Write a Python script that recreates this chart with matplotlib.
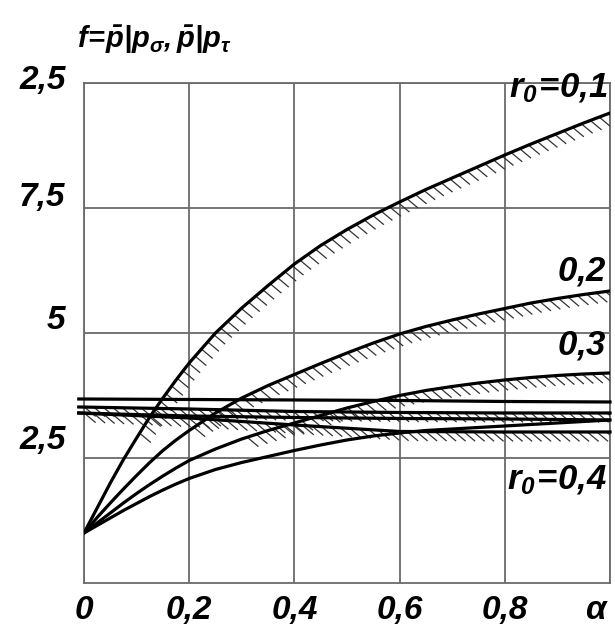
import numpy as np
import matplotlib
matplotlib.use("Agg")
import matplotlib.pyplot as plt

plt.rcParams['font.family'] = ['Liberation Sans', 'DejaVu Sans']
plt.rcParams['mathtext.fontset'] = 'custom'
plt.rcParams['mathtext.it'] = 'Liberation Sans:bold:italic'
plt.rcParams['mathtext.rm'] = 'Liberation Sans:bold:italic'
plt.rcParams['mathtext.sf'] = 'Liberation Sans:bold:italic'
plt.rcParams['mathtext.bf'] = 'Liberation Sans:bold:italic'

# ---- data ----
alpha = [0.0, 0.025, 0.05, 0.075, 0.1, 0.125, 0.15, 0.175, 0.2, 0.25, 0.3, 0.35,
         0.4, 0.45, 0.5, 0.55, 0.6, 0.65, 0.7, 0.75, 0.8, 0.85, 0.9, 0.95, 1.0]
f_r01 = [1.0, 1.5, 2.0, 2.47, 2.9, 3.32, 3.7, 4.06, 4.4, 5.0, 5.5, 5.95,
         6.38, 6.75, 7.07, 7.36, 7.62, 7.87, 8.1, 8.33, 8.56, 8.78, 8.99, 9.2, 9.4]
f_r02 = [1.0, 1.31, 1.6, 1.88, 2.15, 2.41, 2.65, 2.86, 3.05, 3.4, 3.7, 3.95,
         4.17, 4.39, 4.6, 4.8, 4.98, 5.13, 5.26, 5.38, 5.49, 5.6, 5.69, 5.77, 5.84]
f_r03 = [1.0, 1.2, 1.4, 1.6, 1.79, 1.97, 2.14, 2.3, 2.45, 2.68, 2.88, 3.05,
         3.2, 3.35, 3.5, 3.63, 3.75, 3.85, 3.93, 4.0, 4.06, 4.11, 4.15, 4.18, 4.2]
f_r04 = [1.0, 1.15, 1.3, 1.45, 1.59, 1.73, 1.86, 1.98, 2.09, 2.27, 2.41, 2.53,
         2.65, 2.76, 2.86, 2.94, 3.0, 3.05, 3.08, 3.11, 3.14, 3.17, 3.2, 3.23, 3.26]

alpha_h = [-0.01, 0.2, 0.4, 0.6, 0.8, 1.0]
h_a = [3.68, 3.67, 3.66, 3.65, 3.63, 3.62]
h_b = [3.52, 3.48, 3.43, 3.41, 3.40, 3.40]
h_c = [3.40, 3.34, 3.31, 3.29, 3.28, 3.26]
h_d = [3.40, 3.30, 3.16, 3.03, 3.02, 3.02]

x_ticks = [0, 0.2, 0.4, 0.6, 0.8, 1.0]
x_labels = ['0', '0,2', '0,4', '0,6', '0,8', 'α']
y_ticks = [2.5, 5, 7.5, 10]
y_labels = ['2,5', '5', '7,5', '2,5']

curve_labels = [r'$r_0\!=\!0{,}1$', r'$0{,}2$', r'$0{,}3$', r'$r_0\!=\!0{,}4$']
label_y = [9.55, 5.9, 4.42, 1.72]

fig = plt.figure(figsize=(6.15, 6.31), dpi=100)
ax = fig.add_axes([0.1366, 0.0761, 0.8553, 0.7924])
ax.set_xlim(0, 1)
ax.set_ylim(0, 10)
ax.set_xticks(x_ticks)
ax.set_yticks(y_ticks)
ax.grid(True, color='#6a6a6a', lw=1.3)
ax.tick_params(length=0)
ax.set_xticklabels([])
ax.set_yticklabels([])
for s in ax.spines.values():
    s.set_color('#6a6a6a')
    s.set_linewidth(1.3)

fs = 24
tk = dict(fontsize=fs, style='italic', weight='bold', family='Liberation Sans')
x_pos = list(x_ticks)
x_pos[-1] = 0.972
for xv, lab in zip(x_pos, x_labels):
    ax.text(xv, -0.25, lab, ha='center', va='top', **tk)
offs = [0.35, 0.25, 0.2, 0.05]
for yv, lab, o in zip(y_ticks, y_labels, offs):
    ax.text(-0.035, yv + o, lab, ha='right', va='center', **tk)

fig.text(0.125, 0.937, r'$f\!=\!\bar{p}|p_{\sigma},\bar{p}|p_{\tau}$', fontsize=21,
         ha='left', va='center')

lw = 2.3
for fv in (f_r01, f_r02, f_r03, f_r04):
    ax.plot(alpha, fv, color='black', lw=lw, solid_capstyle='round',
            solid_joinstyle='round', zorder=4)
for hv in (h_a, h_b, h_c, h_d):
    ax.plot(alpha_h, hv, color='black', lw=lw, clip_on=False, zorder=4)

fig.canvas.draw()

def hatch(xs, ys, step=9.5, length=14, ang=40):
    pts = ax.transData.transform(np.column_stack([xs, ys]))
    d = np.hypot(np.diff(pts[:, 0]), np.diff(pts[:, 1]))
    s = np.concatenate([[0], np.cumsum(d)])
    ss = np.arange(step * 0.6, s[-1] - 2, step)
    px = np.interp(ss, s, pts[:, 0])
    py = np.interp(ss, s, pts[:, 1])
    dx = length * np.cos(np.radians(ang))
    dy = -length * np.sin(np.radians(ang))
    inv = ax.transData.inverted()
    for x0, y0 in zip(px, py):
        p0 = inv.transform((x0, y0))
        p1 = inv.transform((x0 + dx, y0 + dy))
        ax.plot([p0[0], p1[0]], [p0[1], p1[1]], color='#333333', lw=0.9, zorder=3,
                clip_on=True)

def start_from(xs, ys, a0):
    xs = np.asarray(xs); ys = np.asarray(ys)
    m = xs >= a0
    return xs[m], ys[m]

hatch(*start_from(alpha, f_r01, 0.1))
hatch(*start_from(alpha, f_r02, 0.2))
hatch(*start_from(alpha, f_r03, 0.3))
hatch(alpha_h, h_b)
hatch(alpha_h, h_d)

for lab, yv in zip(curve_labels, label_y):
    ax.text(0.995, yv, lab, ha='right', va='bottom', fontsize=25, zorder=5)

fig.savefig('out.png', dpi=100, facecolor='white')
